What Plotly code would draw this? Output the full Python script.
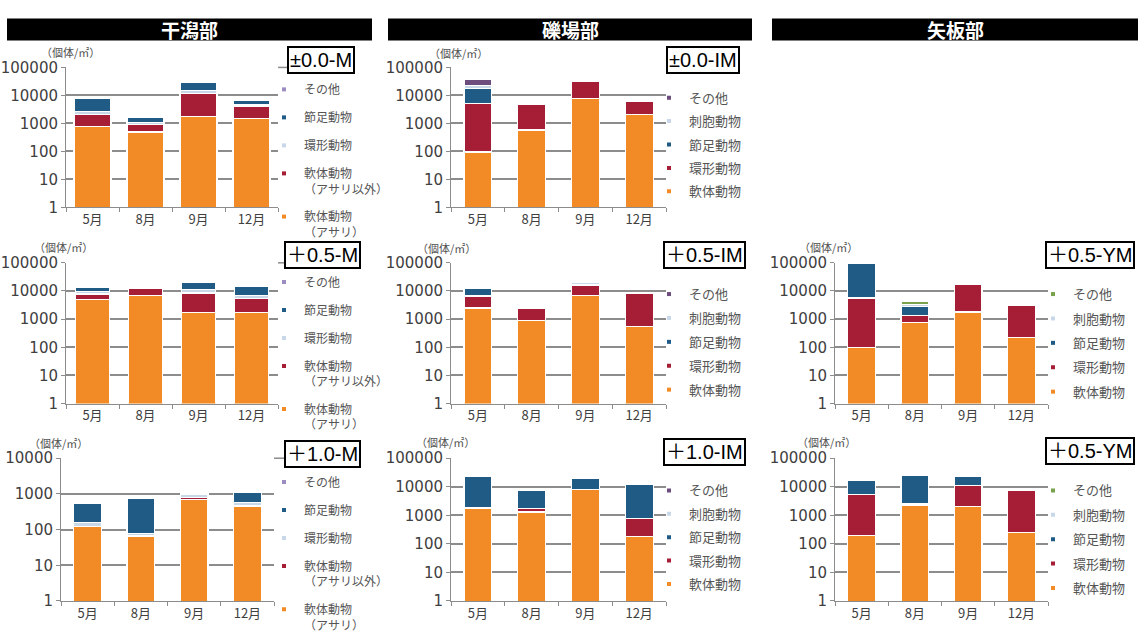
import plotly.graph_objects as go

W, H = 1140, 640
CJK = "Noto Sans CJK JP"
NUM = "DejaVu Sans"
BOXFONT = "Liberation Sans, Noto Sans CJK JP"

months = ["5月", "8月", "9月", "12月"]
y_ticks = [1, 10, 100, 1000, 10000, 100000]
y_tick_text = ["1", "10", "100", "1000", "10000", "100000"]
sections = ["干潟部", "礫場部", "矢板部"]
unit_label = "（個体/㎡）"

# series, listed bottom -> top of each stack
tidal_series = ["軟体動物<br>（アサリ）", "軟体動物<br>（アサリ以外）", "環形動物", "節足動物", "その他"]
reef_series = ["軟体動物", "環形動物", "節足動物", "刺胞動物", "その他"]

# 干潟部 ±0.0-M
m00_asari = [770, 490, 1800, 1500]
m00_mollusc = [1300, 450, 9700, 2500]
m00_annelid = [600, 150, 3000, 500]
m00_arthropod = [5000, 550, 14000, 2200]
m00_other = [100, 50, 500, 200]

# 干潟部 +0.5-M
m05_asari = [5000, 7000, 1700, 1700]
m05_mollusc = [2800, 5000, 6800, 3600]
m05_annelid = [2000, 300, 2500, 1500]
m05_arthropod = [4000, 200, 10000, 8000]
m05_other = [200, 100, 300, 200]

# 干潟部 +1.0-M
m10_asari = [120, 65, 680, 450]
m10_mollusc = [0, 3, 100, 20]
m10_annelid = [40, 10, 200, 100]
m10_arthropod = [380, 680, 60, 550]
m10_other = [10, 20, 60, 30]

# 礫場部 ±0.0-IM
im00_mollusc = [95, 580, 7500, 2100]
im00_annelid = [5000, 4000, 24000, 3900]
im00_arthropod = [12000, 50, 500, 50]
im00_cnidarian = [5000, 0, 0, 0]
im00_other = [16000, 20, 300, 100]

# 礫場部 +0.5-IM
im05_mollusc = [2500, 900, 7000, 550]
im05_annelid = [4100, 1600, 9000, 7800]
im05_arthropod = [6000, 400, 500, 100]
im05_cnidarian = [300, 200, 4500, 50]
im05_other = [100, 100, 500, 50]

# 礫場部 +1.0-IM
im10_mollusc = [1700, 1300, 8000, 180]
im10_annelid = [100, 400, 100, 600]
im10_arthropod = [21000, 6000, 12000, 11000]
im10_cnidarian = [0, 200, 0, 200]
im10_other = [0, 200, 0, 100]

# 矢板部 +0.5-YM (upper)
ym05a_mollusc = [100, 780, 1800, 220]
ym05a_annelid = [5500, 550, 15000, 2900]
ym05a_arthropod = [88000, 1400, 0, 0]
ym05a_cnidarian = [1000, 500, 0, 0]
ym05a_other = [500, 1000, 0, 0]

# 矢板部 +0.5-YM (lower)
ym05b_mollusc = [200, 2300, 2100, 250]
ym05b_annelid = [5000, 300, 9000, 7500]
ym05b_arthropod = [12000, 23000, 12000, 0]
ym05b_cnidarian = [300, 300, 500, 0]
ym05b_other = [300, 200, 300, 0]

ORANGE = "#F28B26"
CRIMSON = "#A51E36"
NAVY = "#1F5B85"
PALE = "#C9D8E9"
PURPLE = "#6C4D7E"
LILAC = "#9C8CC0"
GREEN = "#78A24E"

tidal_colors = [ORANGE, CRIMSON, PALE, NAVY, LILAC]
reef_colors = [ORANGE, CRIMSON, NAVY, PALE, PURPLE]
wall_colors = [ORANGE, CRIMSON, NAVY, PALE, GREEN]

GRID = "#8c8c8c"


def fx(p):
    return p / W


def fy(p):
    return 1 - p / H


# column / row placement in pixels
COL1 = (66, 278)
COL1_LOW = (61, 274)
COL2 = (451, 666)
COL3 = (835, 1048)
ROW1 = (61, 207)
ROW2 = (265, 412)
ROW3 = (469, 618)

panels = [
    dict(label="±0.0-M", names=tidal_series, colors=tidal_colors,
         values=[m00_asari, m00_mollusc, m00_annelid, m00_arthropod, m00_other],
         xd=COL1, yd=ROW1, top=5, bw=0.7, leg=(264, 69), fs=12, gap=9, box=(321, 53), unit=(70, 45)),
    dict(label="±0.0-IM", names=reef_series, colors=reef_colors,
         values=[im00_mollusc, im00_annelid, im00_arthropod, im00_cnidarian, im00_other],
         xd=COL2, yd=ROW1, top=5, bw=0.52, leg=(649, 77), fs=13, gap=3.5, box=(703, 53), unit=(459, 46)),
    dict(label="＋0.5-M", names=tidal_series, colors=tidal_colors,
         values=[m05_asari, m05_mollusc, m05_annelid, m05_arthropod, m05_other],
         xd=COL1, yd=ROW2, top=5, bw=0.65, leg=(264, 270), fs=12, gap=9, box=(322, 257), unit=(63, 249)),
    dict(label="＋0.5-IM", names=reef_series, colors=reef_colors,
         values=[im05_mollusc, im05_annelid, im05_arthropod, im05_cnidarian, im05_other],
         xd=COL2, yd=ROW2, top=5, bw=0.52, leg=(649, 282), fs=13, gap=4, box=(704, 257), unit=(446, 250)),
    dict(label="＋0.5-YM", names=reef_series, colors=wall_colors,
         values=[ym05a_mollusc, ym05a_annelid, ym05a_arthropod, ym05a_cnidarian, ym05a_other],
         xd=COL3, yd=ROW2, top=5, bw=0.52, leg=(1033, 282), fs=13, gap=4.5, box=(1090, 257), unit=(828, 249)),
    dict(label="＋1.0-M", names=tidal_series, colors=tidal_colors,
         values=[m10_asari, m10_mollusc, m10_annelid, m10_arthropod, m10_other],
         xd=COL1_LOW, yd=ROW3, top=4, bw=0.52, leg=(264, 479), fs=12, gap=9, box=(322, 465), unit=(58, 453)),
    dict(label="＋1.0-IM", names=reef_series, colors=reef_colors,
         values=[im10_mollusc, im10_annelid, im10_arthropod, im10_cnidarian, im10_other],
         xd=COL2, yd=ROW3, top=5, bw=0.52, leg=(649, 487), fs=13, gap=3.5, box=(704, 462), unit=(445, 452)),
    dict(label="＋0.5-YM", names=reef_series, colors=wall_colors,
         values=[ym05b_mollusc, ym05b_annelid, ym05b_arthropod, ym05b_cnidarian, ym05b_other],
         xd=COL3, yd=ROW3, top=5, bw=0.52, leg=(1033, 487), fs=13, gap=4.5, box=(1090, 461), unit=(826, 452)),
]

fig = go.Figure()
layout = dict(
    width=W, height=H, margin=dict(l=0, r=0, t=0, b=0),
    paper_bgcolor="white", plot_bgcolor="white",
    barmode="stack", showlegend=True,
    font=dict(family=CJK, color="#404040"),
)
shapes = []
annotations = []

for k, p in enumerate(panels, start=1):
    sfx = "" if k == 1 else str(k)
    xa, ya = "x" + sfx, "y" + sfx
    leg = "legend" + sfx

    # stacked bars
    for name, vals, col in zip(p["names"], p["values"], p["colors"]):
        fig.add_trace(go.Bar(
            x=months, y=vals, name=name.replace("<br>", ""),
            marker=dict(color=col, line=dict(color="white", width=1.2)),
            width=p["bw"], xaxis=xa, yaxis=ya, showlegend=False,
        ))
    # legend entries, top -> bottom
    for i, (name, col) in enumerate(reversed(list(zip(p["names"], p["colors"])))):
        fig.add_trace(go.Scatter(
            x=[None], y=[None], mode="markers", name=name,
            marker=dict(symbol="square", size=4, color=col),
            xaxis=xa, yaxis=ya, legend=leg, legendgroup=f"g{k}_{i}",
        ))

    layout["xaxis" + sfx] = dict(
        domain=[fx(p["xd"][0]), fx(p["xd"][1])], anchor=ya,
        type="category", categoryorder="array", categoryarray=months,
        range=[-0.5, 3.5], showgrid=False, showline=True, linecolor=GRID, linewidth=1,
        ticks="outside", tickson="boundaries", ticklen=4, tickcolor=GRID,
        tickfont=dict(size=13, family=CJK, color="#404040"), fixedrange=True,
    )
    nt = p["top"] + 1
    layout["yaxis" + sfx] = dict(
        domain=[fy(p["yd"][1]), fy(p["yd"][0])], anchor=xa,
        type="log", range=[0, p["top"]],
        tickvals=y_ticks[:nt], ticktext=y_tick_text[:nt],
        showgrid=True, gridcolor=GRID, gridwidth=1.5,
        showline=True, linecolor=GRID, linewidth=1,
        ticks="outside", ticklen=4, tickcolor=GRID,
        tickfont=dict(size=15, family=NUM, color="#404040"), fixedrange=True,
    )
    layout[leg] = dict(
        x=fx(p["leg"][0]), y=fy(p["leg"][1]), xanchor="left", yanchor="top",
        bgcolor="rgba(0,0,0,0)", borderwidth=0,
        font=dict(size=p["fs"], family=CJK, color="#555555"),
        traceorder="grouped", tracegroupgap=p["gap"], valign="top",
        itemclick=False, itemdoubleclick=False,
    )

    # top gridline runs on to the label box
    shapes.append(dict(
        type="line", xref="paper", yref="paper",
        x0=fx(p["xd"][1]), x1=fx(p["box"][0] - 30), y0=fy(p["yd"][0]), y1=fy(p["yd"][0]),
        line=dict(color=GRID, width=1.5), layer="below",
    ))
    annotations.append(dict(
        x=fx(p["box"][0]), y=fy(p["box"][1]), xref="paper", yref="paper",
        text=p["label"], showarrow=False, xanchor="center", yanchor="middle",
        font=dict(size=20, family=BOXFONT, color="black"),
        bgcolor="white", bordercolor="black", borderwidth=2, borderpad=1,
    ))
    annotations.append(dict(
        x=fx(p["unit"][0]), y=fy(p["unit"][1]), xref="paper", yref="paper",
        text=unit_label, showarrow=False, xanchor="center", yanchor="middle",
        font=dict(size=11, family=CJK, color="#505050"),
    ))

# section header bars
header_spans = [(7, 372), (388, 752), (772, 1138)]
for title, (x0, x1) in zip(sections, header_spans):
    shapes.append(dict(
        type="rect", xref="paper", yref="paper",
        x0=fx(x0), x1=fx(x1), y0=fy(33), y1=fy(10),
        fillcolor="black", line=dict(width=0),
    ))
    annotations.append(dict(
        x=fx((x0 + x1) / 2), y=fy(21.5), xref="paper", yref="paper",
        text=f"<b>{title}</b>", showarrow=False, xanchor="center", yanchor="middle",
        font=dict(size=19, family=CJK, color="white"),
    ))

layout["shapes"] = shapes
layout["annotations"] = annotations
fig.update_layout(**layout)
fig.write_html("out.html")
